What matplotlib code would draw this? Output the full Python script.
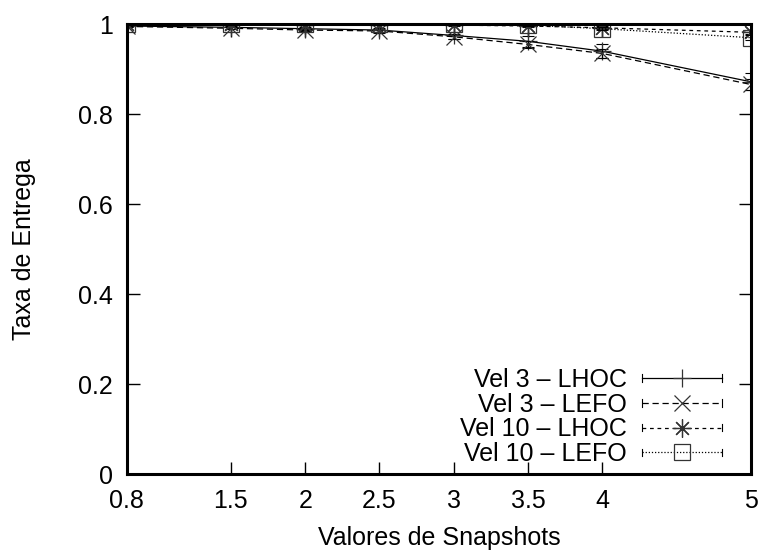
import numpy as np
import matplotlib
matplotlib.use("Agg")
import matplotlib.pyplot as plt
from matplotlib.lines import Line2D
from matplotlib.legend_handler import HandlerLine2D

plt.rcParams['font.family'] = ['Liberation Sans', 'DejaVu Sans']

# snapshot values and delivery rates
snapshots = [0.8, 1.5, 2, 2.5, 3, 3.5, 4, 5]
vel3_lhoc = [0.996, 0.993, 0.990, 0.987, 0.975, 0.962, 0.940, 0.872]
vel3_lhoc_err = [0.002, 0.003, 0.004, 0.005, 0.008, 0.012, 0.016, 0.019]
vel3_lefo = [0.995, 0.991, 0.987, 0.985, 0.972, 0.955, 0.935, 0.866]
vel3_lefo_err = [0.002, 0.002, 0.003, 0.004, 0.006, 0.008, 0.010, 0.012]
vel10_lhoc = [1.0, 1.0, 0.999, 0.999, 0.998, 0.996, 0.992, 0.982]
vel10_lhoc_err = [0.001, 0.001, 0.001, 0.001, 0.002, 0.002, 0.003, 0.004]
vel10_lefo = [1.0, 1.0, 1.0, 1.0, 1.0, 0.998, 0.990, 0.970]
vel10_lefo_err = [0.001, 0.001, 0.001, 0.001, 0.001, 0.002, 0.003, 0.005]
labels = ['Vel 3 – LHOC', 'Vel 3 – LEFO', 'Vel 10 – LHOC', 'Vel 10 – LEFO']

FS = 18


class CappedLine(HandlerLine2D):
    # legend sample like gnuplot errorbars: line with small caps at both ends
    def create_artists(self, legend, orig_handle, xdescent, ydescent,
                       width, height, fontsize, trans):
        arts = super().create_artists(legend, orig_handle, xdescent, ydescent,
                                      width, height, fontsize, trans)
        y0 = (height - ydescent) / 2
        h = 0.3 * fontsize
        for xc in (-xdescent, -xdescent + width):
            cap = Line2D([xc, xc], [y0 - h / 2, y0 + h / 2], color='black',
                         lw=0.8, transform=trans)
            arts.append(cap)
        return arts


fig = plt.figure(figsize=(7.6, 5.5), dpi=100)
ax = fig.add_axes([0.167, 0.138, 0.821, 0.818])

series = [
    (vel3_lhoc, vel3_lhoc_err, '-', '+', 13),
    (vel3_lefo, vel3_lefo_err, (0, (5, 3)), 'x', 11),
    (vel10_lhoc, vel10_lhoc_err, (0, (3, 3)), (8, 2, 0), 13),
    (vel10_lefo, vel10_lefo_err, (0, (1, 1.5)), 's', 11),
]
handles = []
for (vals, err, ls, mk, ms), lab in zip(series, labels):
    ax.errorbar(snapshots, vals, yerr=err, fmt='none', ecolor='black',
                elinewidth=0.8, capsize=4, capthick=0.8)
    ln, = ax.plot(snapshots, vals, color='black', lw=0.9, ls=ls, marker=mk,
                  ms=ms, mfc='none', mec='#333333', mew=0.9, label=lab)
    handles.append(ln)

ax.set_xlim(0.8, 5)
ax.set_ylim(0, 1)
ax.set_xticks(snapshots)
ax.set_xticklabels(['0.8', '1.5', '2', '2.5', '3', '3.5', '4', '5'])
ax.set_yticks([0, 0.2, 0.4, 0.6, 0.8, 1])
ax.set_yticklabels(['0', '0.2', '0.4', '0.6', '0.8', '1'])
ax.tick_params(direction='in', length=9, width=1, top=True, right=True,
               labelsize=FS)
ax.tick_params(axis='x', pad=11)
ax.tick_params(axis='y', pad=10)
for sp in ax.spines.values():
    sp.set_linewidth(2.2)

ax.set_xlabel('Valores de Snapshots', fontsize=FS, labelpad=9)
ax.set_ylabel('Taxa de Entrega', fontsize=FS, labelpad=30)

ax.legend(handles, labels, loc='lower right', bbox_to_anchor=(0.953, 0.018),
          frameon=False, markerfirst=False, fontsize=FS, handlelength=3.2,
          handletextpad=0.6, labelspacing=0.03, borderaxespad=0, borderpad=0,
          handler_map={Line2D: CappedLine(numpoints=1)})

fig.savefig('out.png', dpi=100)
